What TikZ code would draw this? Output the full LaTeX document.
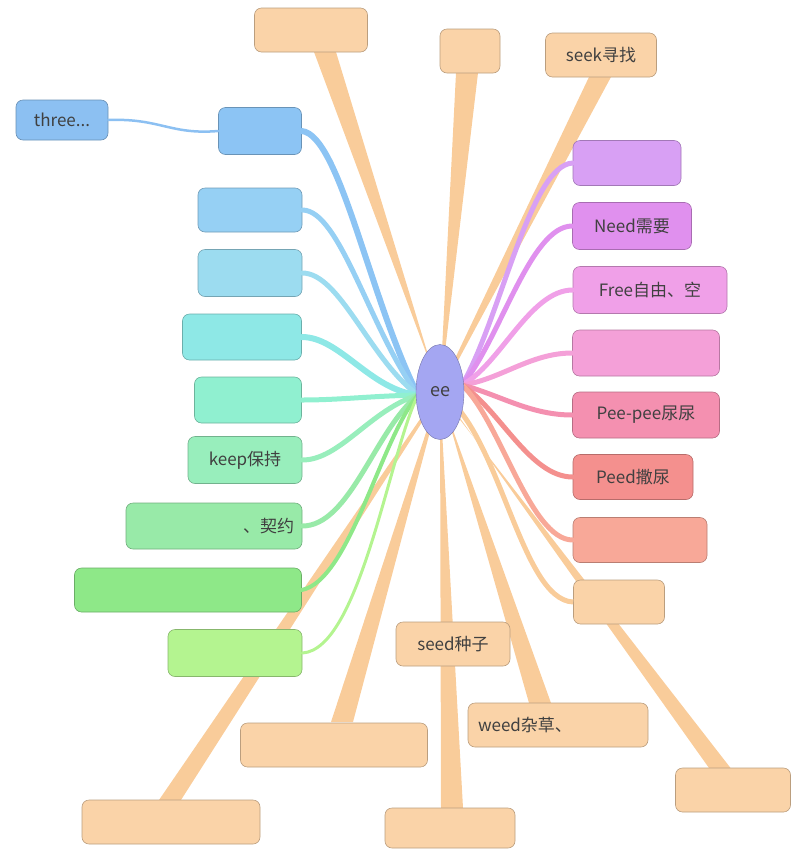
\documentclass[tikz,border=0pt]{standalone}
\usepackage{fontspec}
\setmainfont{Noto Sans CJK SC}
\usetikzlibrary{shapes.geometric,calc}
\definecolor{org}{HTML}{F9CC9A}
\definecolor{orgd}{HTML}{E0A878}
\definecolor{ell}{HTML}{A4A6F2}
\tikzset{
  box/.style={rectangle,rounded corners=7pt,minimum height=44pt,inner sep=0pt,font=\fontsize{17}{20}\selectfont,text=black!75,draw=#1!75!black,line width=0.6pt,fill=#1},
  br/.style={line width=4pt,draw=#1,line cap=round},
}
\newcommand\taper[3]{\fill[org] ($(#1)+(0,-2)$) -- ($(#2)+(-#3,0)$) -- ($(#2)+(#3,0)$) -- ($(#1)+(0,2)$) -- cycle;}
\begin{document}
\begin{tikzpicture}[x=1pt,y=-1pt]
\useasboundingbox (0,0) rectangle (800,863);
\coordinate (c) at (440,392);
% orange tapered branches
\coordinate (t1) at (325,52); \coordinate (t2) at (467,73); \coordinate (t3) at (600,77);
\coordinate (b4) at (725,775); \coordinate (b7) at (452,808); \coordinate (b3) at (540,703);
\coordinate (b5) at (342,722); \coordinate (b6) at (170,800);
\taper{c}{t1}{11} \taper{c}{t2}{11} \taper{c}{t3}{11}
\taper{c}{b4}{11} \taper{c}{b7}{11} \taper{c}{b3}{11}
\taper{c}{b5}{11} \taper{c}{b6}{11}
% boxes
\definecolor{cT}{HTML}{FAD3A8}
\node[box=cT,minimum width=113pt] (T1) at (311,30) {};
\node[box=cT,minimum width=60pt] (T2) at (470,51) {};
\node[box=cT,minimum width=111pt] (T3) at (601,55) {seek寻找};
\node[box=cT,minimum width=91pt] (B1) at (619,602) {};
\node[box=cT,minimum width=114pt] (B2) at (453,644) {seed种子};
\node[box=cT,minimum width=180pt,text width=160pt,align=left] (B3) at (558,725) {weed杂草、};
\node[box=cT,minimum width=115pt] (B4) at (733,790) {};
\node[box=cT,minimum width=187pt] (B5) at (334,745) {};
\node[box=cT,minimum width=178pt] (B6) at (171,822) {};
\node[box=cT,minimum width=130pt,minimum height=40pt] (B7) at (450,828) {};
\draw[line width=5pt,org] (c) .. controls (500,430) and (520,600) .. (B1.west);
% left colored
\definecolor{c0}{HTML}{8CC0F2}\definecolor{c1}{HTML}{8CC4F4}\definecolor{c2}{HTML}{96D0F4}
\definecolor{c3}{HTML}{9CDCF0}\definecolor{c4}{HTML}{8EE8E6}\definecolor{c5}{HTML}{90F0D0}
\definecolor{c6}{HTML}{98EEBC}\definecolor{c7}{HTML}{98EAA8}\definecolor{c8}{HTML}{8EE888}
\definecolor{c9}{HTML}{B4F490}
\definecolor{r1}{HTML}{D8A0F4}\definecolor{r2}{HTML}{E090EE}\definecolor{r3}{HTML}{F0A0E8}
\definecolor{r4}{HTML}{F4A0D8}\definecolor{r5}{HTML}{F490B0}\definecolor{r6}{HTML}{F4908E}
\definecolor{r7}{HTML}{F8A898}
\coordinate (cl) at (418,395); \coordinate (cr) at (462,385);
\node[box=c0,minimum width=92pt,minimum height=40pt] (L0) at (62,120) {three...};
\node[box=c1,minimum width=83pt,minimum height=47pt] (L1) at (260,131) {};
\node[box=c2,minimum width=104pt] (L2) at (250,210) {};
\node[box=c3,minimum width=104pt,minimum height=47pt] (L3) at (250,273) {};
\node[box=c4,minimum width=119pt,minimum height=46pt] (L4) at (242,337) {};
\node[box=c5,minimum width=107pt,minimum height=46pt] (L5) at (248,400) {};
\node[box=c6,minimum width=114pt,minimum height=47pt] (L6) at (245,460) {keep保持};
\node[box=c7,minimum width=176pt,minimum height=46pt,text width=160pt,align=right] (L7) at (214,526) {、契约};
\node[box=c8,minimum width=227pt] (L8) at (188,590) {};
\node[box=c9,minimum width=134pt,minimum height=47pt] (L9) at (235,653) {};
\draw[br=c0,line width=2.5pt] (L0.east) .. controls (160,118) and (170,135) .. (L1.west);
\draw[br=c1,line width=6pt] (L1.east) .. controls (340,135) and (370,300) .. (cl);
\draw[br=c2,line width=5pt] (L2.east) .. controls (340,210) and (370,330) .. (cl);
\draw[br=c3,line width=5pt] (L3.east) .. controls (340,273) and (370,360) .. (cl);
\draw[br=c4,line width=6pt] (L4.east) .. controls (340,337) and (370,390) .. (cl);
\draw[br=c5,line width=5pt] (L5.east) .. controls (340,400) and (370,396) .. (cl);
\draw[br=c6,line width=5pt] (L6.east) .. controls (340,460) and (370,410) .. (cl);
\draw[br=c7,line width=5pt] (L7.east) .. controls (350,526) and (375,430) .. (cl);
\draw[br=c8,line width=4pt] (L8.east) .. controls (350,580) and (380,440) .. (cl);
\draw[br=c9,line width=3pt] (L9.east) .. controls (360,650) and (390,450) .. (cl);
% right colored
\node[box=r1,minimum width=108pt,minimum height=45pt] (R1) at (627,163) {};
\node[box=r2,minimum width=119pt,minimum height=47pt] (R2) at (632,226) {Need需要};
\node[box=r3,minimum width=154pt,minimum height=47pt] (R3) at (650,290) {Free自由、空};
\node[box=r4,minimum width=147pt,minimum height=46pt] (R4) at (646,353) {};
\node[box=r5,minimum width=147pt,minimum height=46pt] (R5) at (646,415) {Pee-pee尿尿};
\node[box=r6,minimum width=120pt,minimum height=45pt] (R6) at (633,477) {Peed撒尿};
\node[box=r7,minimum width=134pt,minimum height=45pt] (R7) at (640,540) {};
\draw[br=r1,line width=5pt] (R1.west) .. controls (530,165) and (500,320) .. (cr);
\draw[br=r2,line width=5pt] (R2.west) .. controls (530,226) and (500,340) .. (cr);
\draw[br=r3,line width=5pt] (R3.west) .. controls (530,290) and (500,365) .. (cr);
\draw[br=r4,line width=5pt] (R4.west) .. controls (530,353) and (500,380) .. (cr);
\draw[br=r5,line width=5pt] (R5.west) .. controls (530,415) and (500,395) .. (cr);
\draw[br=r6,line width=5pt] (R6.west) .. controls (530,477) and (500,410) .. (cr);
\draw[br=r7,line width=5pt] (R7.west) .. controls (530,540) and (500,420) .. (cr);
% center
\node[ellipse,fill=ell,draw=ell!70!black,minimum width=48pt,minimum height=95pt,font=\fontsize{18}{20}\selectfont,text=black!75] (ee) at (c) {ee};
\end{tikzpicture}
\end{document}
